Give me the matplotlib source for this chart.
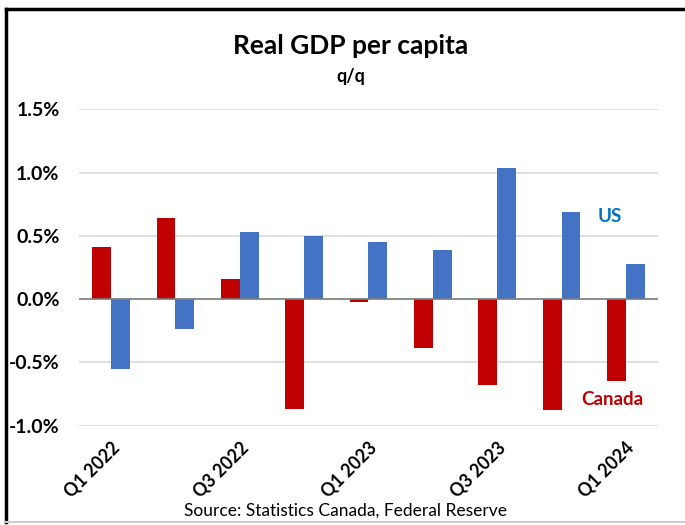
import numpy as np
import matplotlib
matplotlib.use('Agg')
import matplotlib.pyplot as plt
from matplotlib.lines import Line2D
from matplotlib.transforms import ScaledTranslation

plt.rcParams['font.family'] = ['Lato', 'DejaVu Sans']

# Quarterly real GDP per capita growth, q/q %
quarters = ['Q1 2022', 'Q2 2022', 'Q3 2022', 'Q4 2022', 'Q1 2023',
            'Q2 2023', 'Q3 2023', 'Q4 2023', 'Q1 2024']
canada = [0.41, 0.64, 0.16, -0.87, -0.02, -0.39, -0.68, -0.88, -0.65]
us = [-0.55, -0.24, 0.53, 0.50, 0.45, 0.39, 1.04, 0.69, 0.28]
y_ticks = [-1.0, -0.5, 0.0, 0.5, 1.0, 1.5]

red = '#C00000'
blue = '#4472C4'

fig = plt.figure(figsize=(6.85, 5.25), dpi=100)
ax = fig.add_axes([0.1153, 0.1893, 0.8453, 0.6025])

x = np.arange(len(quarters))
w = 0.295
ax.bar(x - w / 2, canada, width=w, color=red, zorder=3)
ax.bar(x + w / 2, us, width=w, color=blue, zorder=3)

ax.set_xlim(-0.5, len(quarters) - 0.5)
ax.set_ylim(-1.0, 1.5)
ax.set_yticks(y_ticks)
ax.set_yticklabels([f'{v:.1f}%' for v in y_ticks], fontsize=14, fontweight='bold')
ax.yaxis.grid(True, color='#D9D9D9', linewidth=1.2, zorder=0)
ax.axhline(0, color='#7F7F7F', linewidth=1.2, zorder=4)
ax.tick_params(axis='y', length=0, pad=14)
ax.tick_params(axis='x', length=0, pad=14)
for s in ax.spines.values():
    s.set_visible(False)

ax.set_xticks(x[::2])
ax.set_xticklabels(quarters[::2], rotation=45, ha='right', va='center',
                   rotation_mode='anchor', fontsize=12.8, fontweight='bold')
# nudge the rotated labels a little to the right
shift = ScaledTranslation(4 / 72, 0, fig.dpi_scale_trans)
for lbl in ax.get_xticklabels():
    lbl.set_transform(lbl.get_transform() + shift)

ax.text(7.75, 0.655, 'US', color='#0070C0', fontsize=13.5, fontweight='bold',
        ha='center', va='center')
ax.text(7.79, -0.79, 'Canada', color=red, fontsize=13.5, fontweight='bold',
        ha='center', va='center')

fig.text(0.512, 0.912, 'Real GDP per capita', ha='center', va='center',
         fontsize=19, fontweight='bold')
fig.text(0.512, 0.855, 'q/q', ha='center', va='center',
         fontsize=13, fontweight='bold')
fig.text(0.505, 0.027, 'Source: Statistics Canada, Federal Reserve',
         ha='center', va='center', fontsize=12.5)

# outer frame: dark top and left edges, light bottom edge
fig.add_artist(Line2D([0.009, 1.0], [0.982, 0.982], color='black', linewidth=2.5))
fig.add_artist(Line2D([0.009, 0.009], [0.982, 0.006], color='black', linewidth=2.5))
fig.add_artist(Line2D([0.009, 1.0], [0.006, 0.006], color='#CCCCCC', linewidth=1.5))

fig.savefig('out.png', dpi=100)
